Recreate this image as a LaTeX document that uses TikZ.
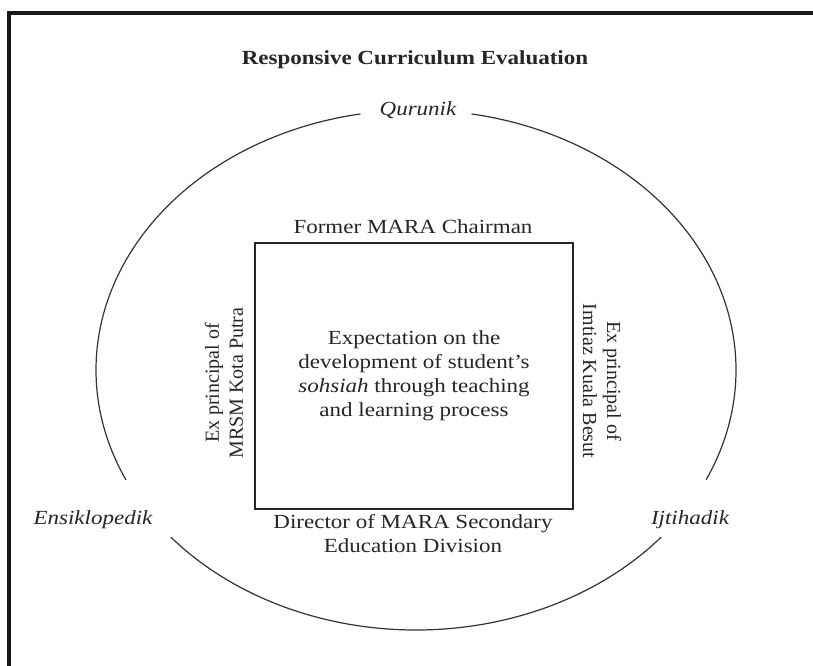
\documentclass[tikz,border=0pt]{standalone}
\usepackage{fontspec}
\setmainfont{Liberation Serif}[FakeStretch=1.15]
\newfontfamily\plainserif{Liberation Serif}
\begin{document}
\begin{tikzpicture}[x=0.75pt,y=-0.75pt,
  txt/.style={font=\fontsize{15}{18}\selectfont, inner sep=0pt, align=center, text=black!85},
  itl/.style={txt, font=\fontsize{15}{18}\selectfont\itshape},
  side/.style={txt, font=\plainserif\fontsize{15}{18}\selectfont},
  frame/.style={line width=3pt, black!90},
  ring/.style={line width=0.9pt, black!80},
  boxline/.style={line width=1.1pt, black!85}]
\useasboundingbox (0,0) rectangle (813,666);
\fill[white] (0,0) rectangle (813,666);
% outer frame
\coordinate (fbl) at (9,666);
\coordinate (ftl) at (9,13);
\coordinate (ftr) at (813,13);
\draw[frame] (fbl) -- (ftl) -- (ftr);
% title
\node[txt, font=\fontsize{15}{18}\selectfont\bfseries] (title) at (415,60) {Responsive Curriculum Evaluation};
% ellipse (with gaps for labels)
\coordinate (c) at (416,370);
\draw[ring] ([shift={(-80:320 and 260)}]c) arc[start angle=-80, end angle=25, x radius=320, y radius=260];
\draw[ring] ([shift={(40:320 and 260)}]c) arc[start angle=40, end angle=140, x radius=320, y radius=260];
\draw[ring] ([shift={(155:320 and 260)}]c) arc[start angle=155, end angle=260, x radius=320, y radius=260];
\node[itl] (qur) at (418,110) {Qurunik};
\node[itl] (ens) at (93,520) {Ensiklopedik};
\node[itl] (ijt) at (690,520) {Ijtihadik};
% box
\node[draw, boxline, minimum width=318*0.75pt, minimum height=266*0.75pt, inner sep=0pt] (box) at (414,376) {};
\node[txt] (core) at (414,376) {Expectation on the\\development of student’s\\\textit{sohsiah} through teaching\\and learning process};
\node[txt] (top) at (413,227) {Former MARA Chairman};
\node[txt] (bot) at (413,534) {Director of MARA Secondary\\Education Division};
\node[side, rotate=90] (left) at (224,383) {Ex principal of\\MRSM Kota Putra};
\node[side, rotate=-90] (right) at (602,381) {Ex principal of\\Imtiaz Kuala Besut};
\end{tikzpicture}
\end{document}
